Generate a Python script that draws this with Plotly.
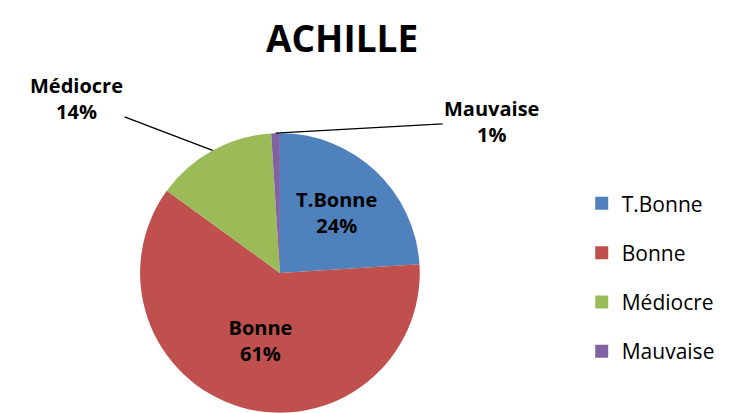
import math
import plotly.graph_objects as go

categories = ["T.Bonne", "Bonne", "Médiocre", "Mauvaise"]
values = [24, 61, 14, 1]
colors = ["#4F81BD", "#C0504D", "#9BBB59", "#8064A2"]
inside_label = [True, True, False, False]
title_text = "ACHILLE"

W, H = 729, 413
FONT = "Open Sans, Lato, sans-serif"

# pie geometry (paper fractions); radius limited by height
dom_x = [0.163, 0.583]
dom_y = [0.02, 0.697]
cx = (dom_x[0] + dom_x[1]) / 2 * W
cy = (dom_y[0] + dom_y[1]) / 2 * H
r = min((dom_x[1] - dom_x[0]) * W, (dom_y[1] - dom_y[0]) * H) / 2

total = sum(values)
texttemplates = [
    "<b>%{label}</b><br><b>%{percent:.0%}</b>" if ins else "" for ins in inside_label
]

fig = go.Figure()
fig.add_trace(
    go.Pie(
        labels=categories,
        values=values,
        sort=False,
        direction="clockwise",
        rotation=0,
        marker=dict(colors=colors, line=dict(width=0)),
        texttemplate=texttemplates,
        textposition="inside",
        insidetextorientation="horizontal",
        textfont=dict(family=FONT, size=20, color="black"),
        domain=dict(x=dom_x, y=dom_y),
        showlegend=False,
        hoverinfo="label+percent",
    )
)

# legend entries
for name, col in zip(categories, colors):
    fig.add_trace(
        go.Scatter(
            x=[None], y=[None], mode="markers", name=name, legendgroup=name,
            marker=dict(symbol="square", size=13, color=col),
        )
    )

# outside labels with leader lines for the small slices
label_offsets = {"Médiocre": (-136, -52), "Mauvaise": (216, -12)}
cum = 0
for name, val, ins in zip(categories, values, inside_label):
    mid = (cum + val / 2) / total * 2 * math.pi
    cum += val
    if ins:
        continue
    px = cx + r * math.sin(mid)
    py = cy + r * math.cos(mid)
    ax, ay = label_offsets[name]
    fig.add_annotation(
        x=px / W, y=py / H, xref="paper", yref="paper",
        ax=ax, ay=ay,
        text=f"<b>{name}</b><br><b>{round(val / total * 100)}%</b>",
        showarrow=True, arrowhead=0, arrowwidth=1.3, arrowcolor="black",
        font=dict(family=FONT, size=20, color="black"),
        align="center",
    )

# chart title
fig.add_annotation(
    x=0.458, y=1, xref="paper", yref="paper",
    xanchor="center", yanchor="top", yshift=-2,
    text=f"<b>{title_text}</b>", showarrow=False,
    font=dict(family=FONT, size=37, color="black"),
)

fig.update_layout(
    width=W,
    height=H,
    margin=dict(l=0, r=0, t=0, b=0),
    paper_bgcolor="white",
    plot_bgcolor="white",
    xaxis=dict(visible=False),
    yaxis=dict(visible=False),
    legend=dict(
        x=0.787,
        y=0.347,
        xanchor="left",
        yanchor="middle",
        font=dict(family=FONT, size=21, color="black"),
        itemwidth=30,
        tracegroupgap=19,
    ),
)

fig.write_html("out.html")
